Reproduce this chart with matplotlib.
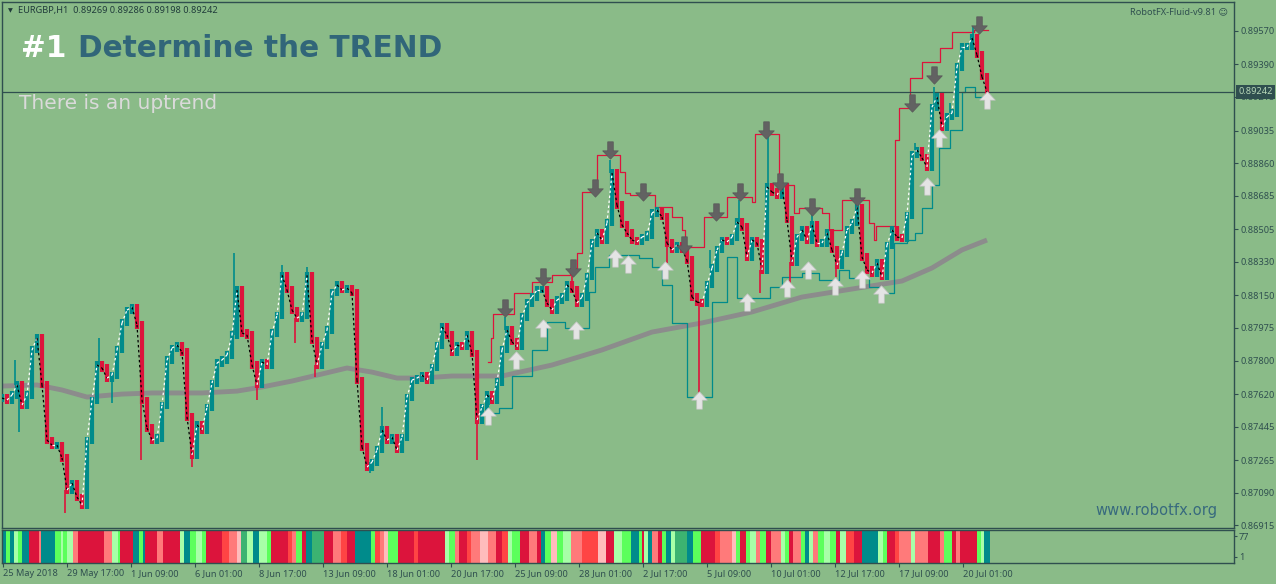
import matplotlib
matplotlib.use("Agg")
import matplotlib.pyplot as plt
from matplotlib.path import Path
from matplotlib.collections import LineCollection
import numpy as np

plt.rcParams['font.family'] = ['Noto Sans', 'DejaVu Sans']

# ---- values read off the EURGBP,H1 chart (one hourly bar ~ one pixel) ----
# closes sampled every 5 bars
bar_x = np.arange(0, 986, 5)
closes = [
    0.87599, 0.87588, 0.87615, 0.87669, 0.87561, 0.87615, 0.87857, 0.87921, 0.87669, 0.87373,
    0.87346, 0.87346, 0.87277, 0.87105, 0.87142, 0.87067, 0.87024, 0.87373, 0.87588, 0.87776,
    0.87760, 0.87706, 0.87722, 0.87857, 0.88002, 0.88071, 0.88087, 0.87991, 0.87588, 0.87438,
    0.87373, 0.87384, 0.87561, 0.87803, 0.87867, 0.87883, 0.87846, 0.87497, 0.87293, 0.87454,
    0.87427, 0.87550, 0.87679, 0.87787, 0.87803, 0.87830, 0.87937, 0.88179, 0.87948, 0.87937,
    0.87776, 0.87669, 0.87792, 0.87776, 0.87948, 0.88044, 0.88259, 0.88179, 0.88071, 0.88028,
    0.88044, 0.88259, 0.87910, 0.87776, 0.87883, 0.87964, 0.88163, 0.88206, 0.88179, 0.88189,
    0.88163, 0.87695, 0.87336, 0.87228, 0.87255, 0.87320, 0.87427, 0.87373, 0.87389, 0.87320,
    0.87389, 0.87604, 0.87695, 0.87706, 0.87722, 0.87695, 0.87765, 0.87883, 0.87980, 0.87937,
    0.87846, 0.87883, 0.87873, 0.87937, 0.87840, 0.87481, 0.87550, 0.87615, 0.87588, 0.87685,
    0.87857, 0.87964, 0.87900, 0.87873, 0.88034, 0.88109, 0.88141, 0.88179, 0.88179, 0.88109,
    0.88071, 0.88125, 0.88141, 0.88206, 0.88179, 0.88109, 0.88141, 0.88249, 0.88431, 0.88485,
    0.88447, 0.88539, 0.88807, 0.88635, 0.88528, 0.88485, 0.88447, 0.88437, 0.88463, 0.88474,
    0.88592, 0.88608, 0.88571, 0.88431, 0.88394, 0.88420, 0.88394, 0.88340, 0.88141, 0.88114,
    0.88109, 0.88206, 0.88297, 0.88394, 0.88447, 0.88437, 0.88463, 0.88544, 0.88517, 0.88356,
    0.88447, 0.88431, 0.88286, 0.88732, 0.88705, 0.88689, 0.88732, 0.88555, 0.88329, 0.88463,
    0.88501, 0.88447, 0.88528, 0.88431, 0.88431, 0.88485, 0.88394, 0.88313, 0.88377, 0.88501,
    0.88539, 0.88624, 0.88356, 0.88286, 0.88270, 0.88324, 0.88249, 0.88420, 0.88501, 0.88463,
    0.88458, 0.88581, 0.88904, 0.88930, 0.88888, 0.88839, 0.89161, 0.89215, 0.89054, 0.89108,
    0.89129, 0.89376, 0.89484, 0.89484, 0.89532, 0.89441, 0.89323, 0.89242,
]
# single-bar extremes (wicks)
spike_x = [13, 17, 63, 97, 110, 139, 190, 232, 255, 280, 293, 305, 313, 368, 380, 475, 487,
           503, 570, 608, 665, 697, 708, 737, 758, 766, 778, 788, 810, 834, 855, 913, 932, 948, 971]
spike_p = [0.87803, 0.87416, 0.86981, 0.87921, 0.87572, 0.87266, 0.87228, 0.88377, 0.87588,
           0.88313, 0.87894, 0.88302, 0.87711, 0.87196, 0.87550, 0.87266, 0.87561, 0.88034,
           0.88286, 0.88877, 0.88324, 0.87604, 0.88393, 0.88662, 0.88163, 0.89022, 0.88786,
           0.88216, 0.88608, 0.88249, 0.88662, 0.88968, 0.89269, 0.89183, 0.89591]

# slow moving average (grey)
ma_x = [0, 35, 60, 85, 120, 150, 200, 235, 260, 290, 320, 345, 370, 395, 420, 450, 500,
        550, 600, 650, 700, 750, 800, 850, 900, 930, 960, 985]
ma_p = [0.87663, 0.87669, 0.87642, 0.87604, 0.87620, 0.87626, 0.87626, 0.87636, 0.87658,
        0.87690, 0.87728, 0.87760, 0.87738, 0.87706, 0.87706, 0.87717, 0.87717, 0.87776,
        0.87857, 0.87953, 0.88002, 0.88061, 0.88141, 0.88184, 0.88227, 0.88297, 0.88394, 0.88447]

# fluid channel, upper (red) and lower (teal)
upper_x = [486, 489, 491, 512, 530, 550, 568, 575, 580, 595, 618, 623, 628, 653, 670, 680,
           683, 702, 725, 750, 753, 777, 792, 797, 820, 827, 840, 867, 872, 874, 893, 897,
           908, 920, 938, 950, 972, 986]
upper_p = [0.87792, 0.87921, 0.88050, 0.88163, 0.88222, 0.88259, 0.88297, 0.88377, 0.88705,
           0.88904, 0.88812, 0.88700, 0.88689, 0.88624, 0.88571, 0.88501, 0.88410, 0.88571,
           0.88678, 0.88651, 0.89016, 0.88743, 0.88592, 0.88619, 0.88592, 0.88501, 0.88662,
           0.88539, 0.88447, 0.88522, 0.88984, 0.89156, 0.89317, 0.89403, 0.89478, 0.89564,
           0.89575, 0.89575]
lower_x = [487, 497, 510, 530, 545, 563, 587, 593, 607, 637, 650, 660, 670, 685, 710, 725,
           735, 768, 780, 800, 817, 837, 847, 867, 877, 892, 905, 913, 920, 930, 937, 948,
           960, 963, 973, 986]
lower_p = [0.87518, 0.87545, 0.87717, 0.87856, 0.88007, 0.87975, 0.88168, 0.88302, 0.88367,
           0.88351, 0.88302, 0.88206, 0.88002, 0.87604, 0.88114, 0.88356, 0.88136, 0.88195,
           0.88249, 0.88270, 0.88232, 0.88286, 0.88243, 0.88195, 0.88163, 0.88431, 0.88447,
           0.88485, 0.88619, 0.88743, 0.88941, 0.89038, 0.89242, 0.89269, 0.89215, 0.89215]

# signal arrows
dn_x = [503, 541, 571, 593, 608, 641, 682, 714, 738, 764, 778, 810, 855, 910, 932, 977]
dn_p = [0.88082, 0.88249, 0.88297, 0.88726, 0.88930, 0.88705, 0.88420, 0.88598, 0.88705,
        0.89038, 0.88759, 0.88624, 0.88678, 0.89183, 0.89333, 0.89602]
up_x = [486, 514, 541, 574, 613, 626, 663, 697, 745, 785, 806, 833, 860, 879, 925, 937, 985]
up_p = [0.87502, 0.87803, 0.87975, 0.87964, 0.88351, 0.88318, 0.88286, 0.87588, 0.88114,
        0.88189, 0.88286, 0.88200, 0.88238, 0.88157, 0.88737, 0.88995, 0.89199]

last_price = 0.89242
price_ticks = [0.89570, 0.89390, 0.89215, 0.89035, 0.88860, 0.88685, 0.88505, 0.88330,
               0.88150, 0.87975, 0.87800, 0.87620, 0.87445, 0.87265, 0.87090, 0.86915]
time_ticks = [1, 65, 129, 193, 257, 321, 385, 449, 513, 577, 641, 705, 769, 833, 897, 961]
time_labels = ['25 May 2018', '29 May 17:00', '1 Jun 09:00', '6 Jun 01:00', '8 Jun 17:00',
               '13 Jun 09:00', '18 Jun 01:00', '20 Jun 17:00', '25 Jun 09:00', '28 Jun 01:00',
               '2 Jul 17:00', '5 Jul 09:00', '10 Jul 01:00', '12 Jul 17:00', '17 Jul 09:00',
               '20 Jul 01:00']

# stochastic colour strip: state codes and run lengths (bars)
sto_codes = list("TGTLGTCSTGLGLSCSLGCTGTCSCLTGLGCRSPMLTLGCRSGCTMCSRCTGRSPGCRCLGSCRSPSCRLGCSCTGPGLSRPCLGTG"
                 "CLTSCGTLMTGCRSPGCGLSGCSLGCSGTLSGLGCLRCTLGCRSLSCSGCSCGLT")
sto_widths = [4, 4, 4, 4, 4, 7, 10, 2, 14, 6, 2, 4, 6, 5, 26, 8, 6, 2, 13, 6, 4, 2, 12, 6, 17,
              4, 6, 6, 6, 4, 16, 7, 8, 4, 6, 6, 6, 8, 4, 17, 4, 4, 6, 4, 6, 12, 9, 8, 6, 8, 16,
              4, 5, 4, 4, 10, 16, 4, 27, 4, 6, 4, 8, 4, 9, 8, 8, 6, 6, 4, 8, 9, 8, 4, 4, 6, 6,
              6, 8, 11, 16, 8, 8, 8, 9, 8, 3,
              2, 4, 4, 6, 4, 4, 5, 4, 12, 6, 8, 14, 5, 12, 4, 4, 6, 4, 6, 4, 6, 5, 10, 4, 4, 4,
              8, 4, 4, 4, 5, 6, 6, 6, 4, 6, 8, 8, 16, 5, 4, 8, 4, 12, 4, 13, 12, 4, 8, 4, 4, 17,
              4, 3, 6]
sto_colors = {'C': '#dc143c', 'R': '#ff4444', 'S': '#ff7a7a', 'P': '#ffbcbc',
              'T': '#008b8b', 'G': '#5cff5c', 'L': '#a8ffa8', 'M': '#3cb371'}

BG = '#8abb88'
DS = '#2f4f4f'
UPC = '#008b8b'
DNC = '#dc143c'
W, H = 1276, 584

fig = plt.figure(figsize=(W / 100, H / 100), dpi=100, facecolor=BG)
ax = fig.add_axes([2 / W, (H - 528) / H, 1232 / W, 526 / H])
ax.set_facecolor(BG)
ax.set_xlim(0, 1232)
ax.set_ylim(0.86901, 0.89725)
for s in ax.spines.values():
    s.set_color(DS)
    s.set_linewidth(1)

# moving average
ax.plot(ma_x, ma_p, color='#8c8c8c', lw=3.5, solid_capstyle='butt', zorder=2)

# channel
ax.plot(upper_x, upper_p, color=DNC, lw=0.9, drawstyle='steps-post', zorder=3)
ax.plot(lower_x, lower_p, color=UPC, lw=0.9, drawstyle='steps-post', zorder=3)

# price bars (open = previous close)
c = np.array(closes)
o = np.concatenate([[c[0]], c[:-1]])
pad = 0.00019
cols = np.where(c >= o, UPC, DNC)
ax.vlines(bar_x, np.minimum(o, c) - pad, np.maximum(o, c) + pad, colors=cols, lw=3.0, zorder=4)
for sx, sp in zip(spike_x, spike_p):
    k = min(int(round(sx / 5)), len(c) - 1)
    ax.vlines(sx, min(c[k], sp), max(c[k], sp), colors=cols[k], lw=1.2, zorder=4)

# dotted trend line: white rising, black falling
segs = [[(bar_x[i - 1], c[i - 1]), (bar_x[i], c[i])] for i in range(1, len(c))]
segc = ['white' if c[i] >= c[i - 1] else 'black' for i in range(1, len(c))]
ax.add_collection(LineCollection(segs, colors=segc, linewidths=0.9,
                                 linestyles=[(0, (2, 2))], zorder=5))

# arrows
up_arrow = Path([(-0.45, 0.02), (0, 0.5), (0.45, 0.02), (0.16, 0.02), (0.16, -0.5),
                 (-0.16, -0.5), (-0.16, 0.02), (-0.45, 0.02)])
dn_arrow = Path([(x, -y) for x, y in up_arrow.vertices])
ax.plot(up_x, up_p, ls='none', marker=up_arrow, ms=12.5, mfc='#e4e4e4', mec='#c4c4c4',
        mew=0.5, zorder=6)
ax.plot(dn_x, dn_p, ls='none', marker=dn_arrow, ms=12.5, mfc='#626262', mec='#585858',
        mew=0.5, zorder=6)

# last price line and tag
ax.axhline(last_price, color=DS, lw=0.9, zorder=3)
ax.set_xticks([])
ax.yaxis.tick_right()
ax.set_yticks(price_ticks)
ax.set_yticklabels([f'{v:.5f}' for v in price_ticks])
ax.tick_params(axis='y', direction='out', length=3, width=0.8, color=DS,
               labelcolor=DS, labelsize=6.6, pad=1.5)
ax.text(1.0035, last_price, f'{last_price:.5f}', transform=ax.get_yaxis_transform(),
        ha='left', va='center', fontsize=6.6, color='#b8d8b8', zorder=10, clip_on=False,
        bbox=dict(facecolor=DS, edgecolor='none', pad=1.6))

# stochastic strip
ax2 = fig.add_axes([2 / W, (H - 563) / H, 1232 / W, 33 / H])
ax2.set_facecolor(BG)
ax2.set_xlim(0, 1232)
ax2.set_ylim(-22, 100)
lefts = np.concatenate([[0], np.cumsum(sto_widths)[:-1]])
ax2.bar(lefts, 122, width=sto_widths, bottom=-22, align='edge', linewidth=0,
        color=[sto_colors[k] for k in sto_codes])
for s in ax2.spines.values():
    s.set_color(DS)
    s.set_linewidth(1)
ax2.yaxis.tick_right()
ax2.set_yticks([77, 1])
ax2.set_yticklabels(['77', '1'])
ax2.tick_params(axis='y', direction='out', length=2, width=0.8, color=DS,
                labelcolor=DS, labelsize=6.6, pad=1.5)
ax2.set_xticks(time_ticks)
ax2.set_xticklabels(time_labels)
ax2.tick_params(axis='x', direction='out', length=3, width=0.8, color=DS,
                labelcolor=DS, labelsize=6.6, pad=1.5)
for lbl in ax2.get_xticklabels():
    lbl.set_ha('left')
ax2.text(6, 0.7, 'EURGBP STO(14,3,7)', transform=ax2.get_yaxis_transform(),
         fontsize=6.6, color='#2a4a4a', va='center', ha='left')

# captions
fig.text(8 / W, 1 - 11 / H, '\u25bc', fontsize=4.5, color='#1f3a3a', va='center',
         family='DejaVu Sans')
fig.text(18 / W, 1 - 11 / H, 'EURGBP,H1  0.89269 0.89286 0.89198 0.89242', fontsize=6.6,
         color='#1f3a3a', va='center')
fig.text(1228 / W, 1 - 12 / H, 'RobotFX-Fluid-v9.81 \u263a', fontsize=6.6, color=DS,
         ha='right', va='center')
fig.text(21 / W, 1 - 57 / H, '#1', fontsize=21.3, weight='bold', color='white',
         family='DejaVu Sans', va='baseline')
fig.text(78 / W, 1 - 57 / H, 'Determine the TREND', fontsize=21.3, weight='bold',
         color='#316679', family='DejaVu Sans', va='baseline')
fig.text(19 / W, 1 - 109 / H, 'There is an uptrend', fontsize=14.5, color='#dadada',
         family='DejaVu Sans', va='baseline')
fig.text(1218 / W, 1 - 515 / H, 'www.robotfx.org', fontsize=10.6, color='#386a7e',
         family='DejaVu Sans', ha='right', va='baseline')

fig.savefig('out.png', dpi=100, facecolor=BG)
